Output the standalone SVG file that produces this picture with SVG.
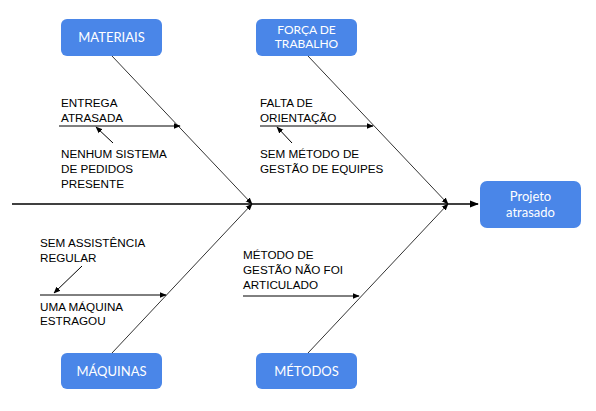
<svg xmlns="http://www.w3.org/2000/svg" width="596" height="411" viewBox="0 0 596 411">
<style>
.box{fill:#4a86e8;}
.bt{fill:#fff;font-family:Lato,"Open Sans",sans-serif;font-size:13px;text-anchor:middle;}
.bs{font-size:12px;}
.lbl{fill:#000;font-family:"Liberation Sans",Arial,sans-serif;font-size:11.7px;}
.diag{stroke:#333;stroke-width:1;fill:none;}
.sub{stroke:#000;stroke-width:1;fill:none;}
.spine{stroke:#000;stroke-width:1.3;fill:none;}
</style>
<defs>
<marker id="ah" viewBox="0 0 10 10" refX="9" refY="5" markerWidth="7" markerHeight="7" markerUnits="userSpaceOnUse" orient="auto">
<path d="M0,1 L10,5 L0,9 Z" fill="#000"/>
</marker>
<marker id="ah2" viewBox="0 0 10 10" refX="9" refY="5" markerWidth="9" markerHeight="9" markerUnits="userSpaceOnUse" orient="auto">
<path d="M0,1 L10,5 L0,9 Z" fill="#000"/>
</marker>
</defs>
<rect width="596" height="411" fill="#fff"/>
<g id="connectors">
<line class="spine" x1="12" y1="204" x2="478" y2="204" marker-end="url(#ah2)"/>
<line class="diag" x1="112" y1="56" x2="252" y2="204" marker-end="url(#ah)"/>
<line class="diag" x1="308" y1="56" x2="448" y2="204" marker-end="url(#ah)"/>
<line class="diag" x1="112" y1="353" x2="252" y2="204" marker-end="url(#ah)"/>
<line class="diag" x1="308" y1="353" x2="448" y2="204" marker-end="url(#ah)"/>
<line class="sub" x1="59" y1="126" x2="180" y2="126" marker-end="url(#ah)"/>
<line class="sub" x1="113" y1="143" x2="96" y2="127" marker-end="url(#ah)"/>
<line class="sub" x1="260" y1="126" x2="373" y2="126" marker-end="url(#ah)"/>
<line class="sub" x1="292" y1="143" x2="277" y2="127" marker-end="url(#ah)"/>
<line class="sub" x1="40" y1="295" x2="166" y2="295" marker-end="url(#ah)"/>
<line class="sub" x1="82" y1="266" x2="54" y2="293" marker-end="url(#ah)"/>
<line class="sub" x1="243" y1="296" x2="359" y2="296" marker-end="url(#ah)"/>
</g>
<g id="materiais">
<rect class="box" x="61" y="19" width="101" height="37" rx="6"/>
<text class="bt" x="111.5" y="42">MATERIAIS</text>
</g>
<g id="forca">
<rect class="box" x="256" y="19" width="101" height="37" rx="6"/>
<text class="bt bs" x="306.5" y="34">FORÇA DE</text>
<text class="bt bs" x="306.5" y="48">TRABALHO</text>
</g>
<g id="maquinas">
<rect class="box" x="61" y="353" width="101" height="36" rx="6"/>
<text class="bt" x="111.5" y="376">MÁQUINAS</text>
</g>
<g id="metodos">
<rect class="box" x="256" y="353" width="101" height="36" rx="6"/>
<text class="bt" x="306.5" y="376">MÉTODOS</text>
</g>
<g id="projeto">
<rect class="box" x="480" y="181" width="101" height="47" rx="7"/>
<text class="bt" x="530.5" y="201">Projeto</text>
<text class="bt" x="530.5" y="217">atrasado</text>
</g>
<g id="labels">
<text class="lbl" x="61" y="107">ENTREGA</text>
<text class="lbl" x="61" y="122">ATRASADA</text>
<text class="lbl" x="61" y="158">NENHUM SISTEMA</text>
<text class="lbl" x="61" y="173">DE PEDIDOS</text>
<text class="lbl" x="61" y="188">PRESENTE</text>
<text class="lbl" x="260" y="107">FALTA DE</text>
<text class="lbl" x="260" y="122">ORIENTAÇÃO</text>
<text class="lbl" x="260" y="158">SEM MÉTODO DE</text>
<text class="lbl" x="260" y="173">GESTÃO DE EQUIPES</text>
<text class="lbl" x="40" y="247">SEM ASSISTÊNCIA</text>
<text class="lbl" x="40" y="262">REGULAR</text>
<text class="lbl" x="40" y="311">UMA MÁQUINA</text>
<text class="lbl" x="40" y="325">ESTRAGOU</text>
<text class="lbl" x="243" y="259">MÉTODO DE</text>
<text class="lbl" x="243" y="274">GESTÃO NÃO FOI</text>
<text class="lbl" x="243" y="289">ARTICULADO</text>
</g>
</svg>
